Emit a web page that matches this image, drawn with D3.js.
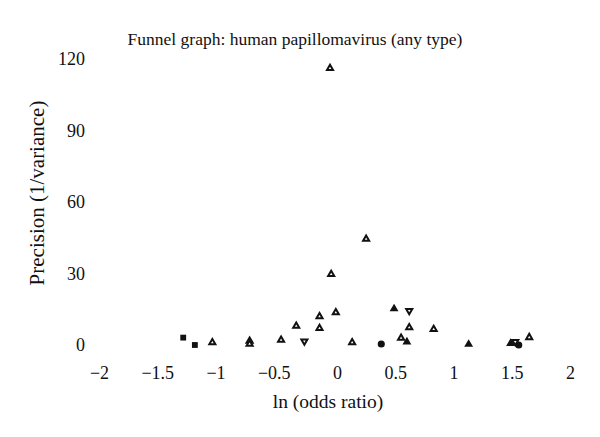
<!DOCTYPE html>
<html>
<head>
  <title>Funnel graph</title>
</head>
<meta http-equiv="content-type" content="text/html; charset=UTF-8">
<script type="text/javascript" src="https://cdn.jsdelivr.net/npm/d3@7"></script>
<style>
  body { margin: 0; background: #fff; }
  text { font-family: "Liberation Serif", "DejaVu Serif", serif; fill: #111; }
</style>
<body>

<script type="text/javascript">

  // studies: ln(odds ratio), precision (1/variance), marker type
  var lnOR = [-1.32, -1.22, -1.07, -0.75, -0.75, -0.48, -0.35, -0.28, -0.15, -0.15,
              -0.05, -0.01, -0.06, 0.13, 0.25, 0.38, 0.49, 0.62, 0.62, 0.55,
              0.60, 0.83, 1.13, 1.49, 1.53, 1.56, 1.65];
  var precision = [3.1, 0.0, 1.0, 1.7, 0.4, 2.1, 8.0, 1.6, 12.0, 7.0,
                   29.7, 13.6, 116.1, 1.0, 44.5, 0.4, 15.2, 14.4, 7.3, 2.9,
                   1.3, 6.6, 0.3, 0.7, 1.4, 0.0, 3.2];
  var marker = ["square", "square", "open", "open", "open", "open", "open", "down", "open", "open",
                "open", "open", "open", "open", "open", "circle", "filled", "down", "open", "open",
                "filled", "open", "filled", "filled", "down", "circle", "open"];

  var xTicks = [-2, -1.5, -1, -0.5, 0, 0.5, 1, 1.5, 2];
  var yTicks = [0, 30, 60, 90, 120];

  var width = 600,
    height = 437;

  var x = d3.scaleLinear()
    .domain([-2, 2])
    .range([104, 570]);

  var y = d3.scaleLinear()
    .domain([0, 120])
    .range([345, 59]);

  var svg = d3.select("body").append("svg")
    .attr("width", width)
    .attr("height", height);

  svg.append("text")
    .attr("x", 295)
    .attr("y", 45)
    .attr("text-anchor", "middle")
    .style("font-size", "17.5px")
    .text("Funnel graph: human papillomavirus (any type)");

  var fmt = d => d < 0 ? "\u2212" + Math.abs(d) : String(d);

  var xAxis = svg.append("g")
    .attr("transform", "translate(0,363)")
    .call(d3.axisBottom(x).tickValues(xTicks).tickSize(0).tickFormat(fmt));
  xAxis.select(".domain").remove();
  xAxis.selectAll("text")
    .style("font-size", "18px")
    .attr("fill", "#111")
    .attr("dx", d => d < 0 ? -5 : 0);

  var yAxis = svg.append("g")
    .attr("transform", "translate(85,0)")
    .call(d3.axisLeft(y).tickValues(yTicks).tickSize(0).tickPadding(0));
  yAxis.select(".domain").remove();
  yAxis.selectAll("text")
    .style("font-size", "18px")
    .attr("fill", "#111");

  svg.append("text")
    .attr("x", 328)
    .attr("y", 408)
    .attr("text-anchor", "middle")
    .style("font-size", "19.5px")
    .text("ln (odds ratio)");

  svg.append("text")
    .attr("transform", "translate(44,193) rotate(-90)")
    .attr("text-anchor", "middle")
    .style("font-size", "21px")
    .text("Precision (1/variance)");

  var data = lnOR.map((v, i) => ({x: v, y: precision[i], m: marker[i]}));

  var sym = {
    open: d3.symbol().type(d3.symbolTriangle).size(16)(),
    filled: d3.symbol().type(d3.symbolTriangle).size(34)(),
    down: d3.symbol().type(d3.symbolTriangle).size(16)(),
    square: d3.symbol().type(d3.symbolSquare).size(34)(),
    circle: d3.symbol().type(d3.symbolCircle).size(40)()
  };

  svg.append("g")
    .selectAll("path")
    .data(data)
    .enter().append("path")
    .attr("d", d => sym[d.m])
    .attr("transform", d => `translate(${x(d.x)},${y(d.y)})` + (d.m === "down" ? " rotate(180)" : ""))
    .attr("fill", d => (d.m === "open" || d.m === "down") ? "#fff" : "#111")
    .attr("stroke", "#111")
    .attr("stroke-width", d => (d.m === "open" || d.m === "down") ? 2 : 0);

</script>
</body>
</html>
